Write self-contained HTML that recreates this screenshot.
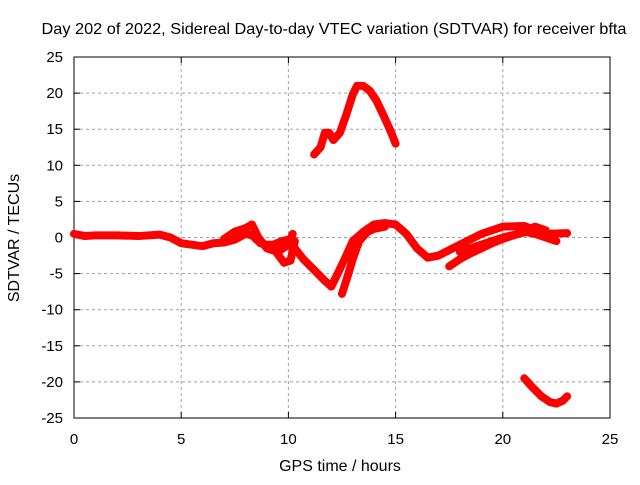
<!DOCTYPE html>
<html><head><meta charset="utf-8"><style>
body{margin:0;background:#fff;}
svg text{font-family:"Liberation Sans",sans-serif;font-size:15px;fill:#000;}
</style></head><body>
<svg id="chart" width="640" height="480" xmlns="http://www.w3.org/2000/svg">
<rect width="640" height="480" fill="#fff"/>
<g id="grid"></g><g id="axes"></g><g id="series"></g>
<text x="334" y="34" text-anchor="middle" style="font-size:16px" textLength="585" lengthAdjust="spacingAndGlyphs">Day 202 of 2022, Sidereal Day-to-day VTEC variation (SDTVAR) for receiver bfta</text>
<text x="340" y="471" text-anchor="middle" style="font-size:16px">GPS time / hours</text>
<text x="19" y="238" text-anchor="middle" style="font-size:16px" transform="rotate(-90 19 238)">SDTVAR / TECUs</text>
</svg>
<script>
const xTicks=[0,5,10,15,20,25];
const yTicks=[25,20,15,10,5,0,-5,-10,-15,-20,-25];
const trackMainT=[0,0.5,1,2,3,4,4.5,5,5.5,6,6.5,7,7.5,8,8.3,8.7,9,9.3,9.7,10,10.3,10.7,11.2,11.7,12,12.3,12.7,13,13.5,14,14.5,15,15.5,16,16.5,17,18,19,20,21,22,23];
const trackMainV=[0.5,0.2,0.3,0.3,0.2,0.4,0,-0.8,-1,-1.2,-0.8,-0.7,-0.3,0.5,0.3,-0.8,-1,-1,-0.5,-0.3,-1.5,-3,-4.5,-6,-6.8,-5,-2.5,-0.5,0.8,1.8,2,1.8,0.5,-1.5,-2.8,-2.5,-1,0.5,1.5,1.6,0.5,0.6];
const trackLoopT=[7,7.5,8,8.3,8.6,9,9.5,10,10.2];
const trackLoopV=[-0.2,0.8,1.3,1.8,0,-1.5,-2,-1,0.5];
const trackLoop2T=[9.3,9.8,10.1,10.3];
const trackLoop2V=[-1.5,-3.5,-3.2,-0.5];
const trackRiseT=[12.5,12.8,13,13.3,13.7,14,14.5];
const trackRiseV=[-7.8,-5,-3,-0.5,0.8,1.2,1.5];
const trackLateT=[17.5,18,18.5,19,19.5,20,20.5,21,21.5,22,22.5];
const trackLateV=[-4,-3,-2.2,-1.5,-0.8,-0.2,0.3,0.8,0.5,0,-0.5];
const trackLate2T=[18,19,20,21,21.5,22];
const trackLate2V=[-2,-1,0,0.7,1.5,1];
const trackHighT=[11.2,11.5,11.7,11.9,12.1,12.4,12.7,13,13.2,13.5,13.8,14.1,14.5,14.8,15];
const trackHighV=[11.5,12.5,14.5,14.5,13.5,14.5,17,19.8,21,21,20.3,19,16.5,14.5,13];
const trackLowT=[21,21.4,21.8,22.2,22.5,22.8,23];
const trackLowV=[-19.5,-20.8,-22,-22.8,-23,-22.6,-22];
const tracks=[[trackMainT,trackMainV],[trackLoopT,trackLoopV],[trackLoop2T,trackLoop2V],[trackRiseT,trackRiseV],[trackLateT,trackLateV],[trackLate2T,trackLate2V],[trackHighT,trackHighV],[trackLowT,trackLowV]];
const X0=74,X1=610,Y0=418,Y1=57;
const sx=v=>X0+(v-0)/(25-0)*(X1-X0);
const sy=v=>Y0-(v+25)/50*(Y0-Y1);
const NS='http://www.w3.org/2000/svg';
const g=document.getElementById('grid'),a=document.getElementById('axes'),s=document.getElementById('series');
function mk(tag,attrs,p){const e=document.createElementNS(NS,tag);for(const k in attrs)e.setAttribute(k,attrs[k]);p.appendChild(e);return e;}
xTicks.forEach(t=>{const x=sx(t);
 if(t>0&&t<25){const l=mk('line',{x1:x,x2:x,y1:Y1,y2:Y0,stroke:'#a0a0a0','stroke-dasharray':'3,3'},g);}
 mk('line',{x1:x,x2:x,y1:Y0,y2:Y0-6,stroke:'#000'},a);mk('line',{x1:x,x2:x,y1:Y1,y2:Y1+6,stroke:'#000'},a);
 const tx=mk('text',{x:x,y:Y0+26,'text-anchor':'middle'},a);tx.textContent=t;
 });
yTicks.forEach(t=>{const y=sy(t);
 if(t>-25&&t<25){const l=mk('line',{x1:X0,x2:X1,y1:y,y2:y,stroke:'#a0a0a0','stroke-dasharray':'3,3'},g);}
 mk('line',{x1:X0,x2:X0+6,y1:y,y2:y,stroke:'#000'},a);mk('line',{x1:X1,x2:X1-6,y1:y,y2:y,stroke:'#000'},a);
 const tx=mk('text',{x:X0-11,y:y+5,'text-anchor':'end'},a);tx.textContent=t;
 });
const fr=mk('rect',{x:X0,y:Y1,width:X1-X0,height:Y0-Y1,fill:'none',stroke:'#000'},a);

tracks.forEach(tr=>{const pts=tr[0].map((t,i)=>sx(t)+','+sy(tr[1][i])).join(' ');
 const pl=mk('polyline',{points:pts,fill:'none',stroke:'#ff0000','stroke-width':8,'stroke-linejoin':'round','stroke-linecap':'round'},s);
 });
</script>
</body></html>
